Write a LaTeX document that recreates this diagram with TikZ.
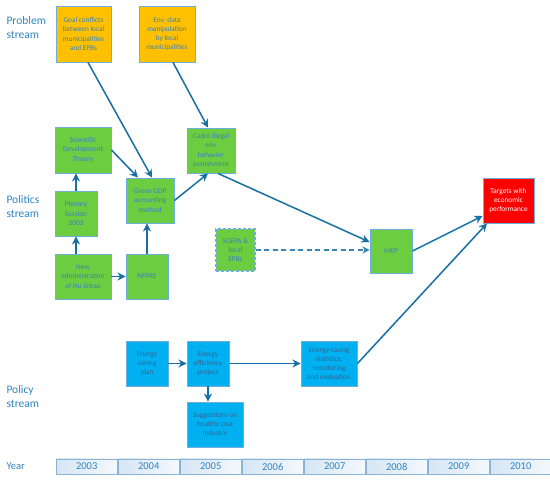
\documentclass[tikz,border=0pt]{standalone}
\usepackage{fontspec}
\setmainfont{Carlito}
\usetikzlibrary{arrows.meta,calc,shadings}
\definecolor{orng}{RGB}{255,192,0}
\definecolor{grn}{RGB}{108,205,64}
\definecolor{cyanb}{RGB}{0,176,240}
\definecolor{redb}{RGB}{255,0,0}
\definecolor{bordc}{RGB}{110,175,222}
\definecolor{txtc}{RGB}{56,130,190}
\definecolor{arrc}{RGB}{22,112,163}
\definecolor{lblc}{RGB}{46,134,193}
\definecolor{cellb}{RGB}{140,178,212}
\definecolor{celll}{RGB}{214,230,245}
\definecolor{cellw}{RGB}{244,248,252}
\tikzset{
  bx/.style={draw=bordc, line width=0.9pt, inner sep=0pt, align=center,
    text=txtc, font=\fontsize{7.3}{9.2}\selectfont},
  obox/.style={bx, fill=orng},
  gbox/.style={bx, fill=grn},
  cbox/.style={bx, fill=cyanb, text=txtc!80!black},
  rbox/.style={bx, fill=redb, text=white},
  arr/.style={draw=arrc, line width=1.5pt, -{Stealth[length=8pt,width=8pt,inset=2.5pt]}},
  darr/.style={draw=arrc!85!white, line width=1.1pt, dash pattern=on 5pt off 3.5pt,
    -{Stealth[length=7pt,width=7pt,inset=2pt]}},
  strm/.style={anchor=west, align=left, text=lblc, font=\fontsize{11.5}{13.5}\selectfont},
  cell/.style={draw=cellb, line width=0.6pt, left color=celll, right color=cellw,
    minimum width=61.4pt, minimum height=15pt, inner sep=0pt, text=lblc,
    font=\fontsize{10.5}{12}\selectfont, anchor=west}
}
\begin{document}
\begin{tikzpicture}[x=1pt,y=-1pt]
\useasboundingbox (0,0) rectangle (550,481);
\fill[white] (0,0) rectangle (550,481);
% stream labels
\node[strm] (lp) at (3,27.5) {Problem\\stream};
\node[strm] (lpo) at (3,206.5) {Politics\\stream};
\node[strm] (lpc) at (3,396.5) {Policy\\stream};
% problem boxes
\node[obox, minimum width=55pt, minimum height=56pt] (goal) at (83.5,34) {Goal conflicts\\between local\\municipalities\\and EPBs};
\node[obox, minimum width=56pt, minimum height=56pt] (env) at (167,34) {Env. data\\manipulation\\by local\\municipalities};
% politics boxes
\node[gbox, minimum width=56pt, minimum height=46pt] (sci) at (83,150) {Scientific\\Development\\Theory};
\node[gbox, minimum width=48pt, minimum height=45pt] (cadre) at (211,150.5) {Cadre illegal\\env.\\behavior\\punishment};
\node[gbox, minimum width=48pt, minimum height=45pt] (gdp) at (150,200.5) {Green GDP\\accounting\\method};
\node[gbox, minimum width=42pt, minimum height=45pt] (plen) at (76,213.5) {Plenary\\Session\\2003};
\node[gbox, minimum width=56pt, minimum height=45pt] (newad) at (83,276.5) {New\\administration\\of Hu Jintao};
\node[gbox, minimum width=42pt, minimum height=45pt] (nfpre) at (147,276.5) {NFPRE};
\node[gbox, dashed, dash pattern=on 3pt off 2pt, line width=1.1pt, minimum width=39pt, minimum height=42pt] (sgepa) at (235.5,250) {SGEPA \&\\local\\EPBs};
\node[gbox, minimum width=42pt, minimum height=44pt] (mep) at (391,251) {MEP};
\node[rbox, minimum width=51pt, minimum height=45pt] (targ) at (508.5,200.5) {Targets with\\economic\\performance};
% policy boxes
\node[cbox, minimum width=42pt, minimum height=45pt] (esp) at (147,363.5) {Energy\\saving\\plan};
\node[cbox, minimum width=42pt, minimum height=45pt] (eff) at (208,363.5) {Energy\\efficiency\\project};
\node[cbox, minimum width=56pt, minimum height=45pt] (stat) at (329,363.5) {Energy-saving\\statistics,\\monitoring\\and evaluation};
\node[cbox, minimum width=56pt, minimum height=45pt] (sugg) at (215,424.5) {Suggestions on\\healthy coal\\industry};
% arrows
\draw[arr] ([xshift=4.5pt]goal.south) -- ([xshift=2pt]gdp.north);
\draw[arr] ([xshift=6pt]env.south) -- ([xshift=-3pt]cadre.north);
\draw[arr] (sci.east) -- ([xshift=-12pt]gdp.north);
\draw[arr] (plen.north) -- (sci.south -| plen.north);
\draw[arr] (newad.north -| plen.south) -- (plen.south);
\draw[arr] (newad.east) -- (nfpre.west);
\draw[arr] (nfpre.north) -- (gdp.south -| nfpre.north);
\draw[arr] (gdp.east) -- ([xshift=-3pt]cadre.south);
\draw[arr] ([xshift=7pt]cadre.south) -- ([yshift=9pt]mep.west);
\draw[darr] (sgepa.east) -- (mep.west |- sgepa.east);
\draw[arr] (mep.east) -- ([yshift=-15.5pt]targ.west);
\draw[arr] (stat.east) -- ([xshift=-21.5pt]targ.south);
\draw[arr] (esp.east) -- (eff.west);
\draw[arr] (eff.east) -- (stat.west);
\draw[arr] (eff.south) -- (sugg.north -| eff.south);
% year row
\node[anchor=west, text=lblc, font=\fontsize{10.5}{12}\selectfont] (year) at (3,466.5) {Year};
\node[cell] (y3) at (55.7,466.5) {2003};
\node[cell] (y4) at (y3.east) {2004};
\node[cell] (y5) at (y4.east) {2005};
\node[cell] (y6) at (y5.east) {2006};
\node[cell] (y7) at (y6.east) {2007};
\node[cell] (y8) at (y7.east) {2008};
\node[cell] (y9) at (y8.east) {2009};
\node[cell] (y10) at (y9.east) {2010};
\end{tikzpicture}
\end{document}
